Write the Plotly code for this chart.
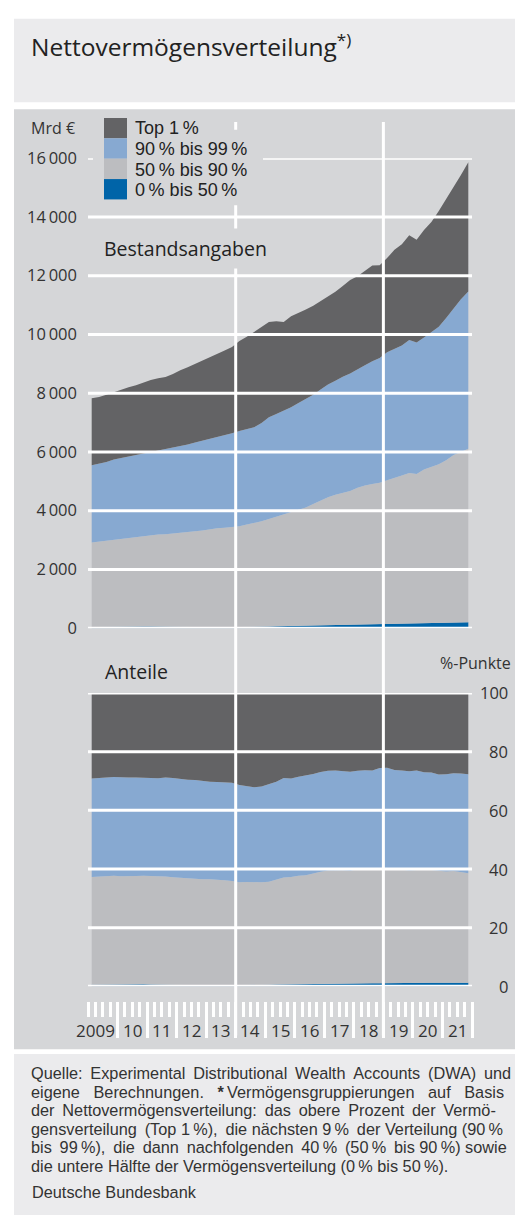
import plotly.graph_objects as go

W, H = 515, 1226
FONT = "Open Sans"
FN_FONT = "Liberation Sans"
TXT = "#333333"
DARK = "#222222"
PANEL = "#d5d6d8"
BAND = "#ebebed"

# ---------------- data (Mrd €, quarterly 2009Q1 .. 2021Q4) ----------------
years = list(range(2009, 2022))
quarters = [f"{y}Q{q}" for y in years for q in range(1, 5)]

bottom50 = [40, 45, 50, 55, 60, 65, 65, 60, 55, 50,
            45, 40, 35, 30, 30, 30, 30, 30, 35, 35,
            40, 45, 50, 55, 60, 65, 70, 75, 80, 85,
            90, 95, 100, 105, 110, 115, 120, 125, 130, 130,
            140, 150, 155, 160, 160, 165, 170, 175, 180, 190,
            195, 200]
p50_90 = [2880, 2905, 2940, 2975, 2990, 3025, 3045, 3090, 3125, 3140,
          3155, 3180, 3215, 3250, 3270, 3300, 3340, 3370, 3385, 3405,
          3430, 3485, 3530, 3585, 3660, 3735, 3800, 3885, 3970, 4025,
          4140, 4255, 4360, 4435, 4500, 4555, 4660, 4735, 4780, 4820,
          4900, 4980, 5045, 5120, 5090, 5235, 5310, 5405, 5540, 5710,
          5805, 5910]
p90_99 = [2630, 2650, 2670, 2710, 2740, 2750, 2780, 2790, 2820, 2850,
          2890, 2920, 2950, 2970, 3020, 3050, 3070, 3100, 3140, 3200,
          3240, 3250, 3260, 3350, 3460, 3490, 3530, 3560, 3620, 3690,
          3720, 3780, 3840, 3880, 3950, 4000, 4020, 4090, 4180, 4250,
          4350, 4370, 4420, 4530, 4480, 4500, 4600, 4680, 4840, 5000,
          5200, 5350]
top1 = [2280, 2270, 2290, 2300, 2340, 2360, 2380, 2420, 2450, 2470,
        2460, 2510, 2580, 2630, 2670, 2740, 2790, 2830, 2890, 2930,
        3070, 3140, 3240, 3270, 3240, 3160, 3020, 3100, 3060, 3050,
        3030, 3000, 2990, 3030, 3090, 3180, 3180, 3200, 3260, 3160,
        3210, 3380, 3450, 3570, 3490, 3660, 3750, 3940, 4040, 4100,
        4230, 4400]

series_names = ["0\u2009% bis 50\u2009%", "50\u2009% bis 90\u2009%",
                "90\u2009% bis 99\u2009%", "Top 1\u2009%"]
series_values = [bottom50, p50_90, p90_99, top1]
series_colors = ["#0064a8", "#bcbdc0", "#87a9d1", "#636365"]

top_ticks = [0, 2000, 4000, 6000, 8000, 10000, 12000, 14000, 16000]
top_ticktext = ["0", "2\u2009000", "4\u2009000", "6\u2009000", "8\u2009000",
                "10\u2009000", "12\u2009000", "14\u2009000", "16\u2009000"]
bottom_ticks = [0, 20, 40, 60, 80, 100]
year_labels = ["2009", "10", "11", "12", "13", "14", "15", "16", "17",
               "18", "19", "20", "21"]
marker_years = [2014, 2019]

T1 = " \u2009"
N2 = " \u00a0\u00a0"
footnote_lines = [
    T1.join(["Quelle:", "Experimental", "Distributional", "Wealth", "Accounts",
             "(DWA)", "und"]),
    N2.join(["eigene", "Berechnungen.", "<b>*</b>\u2009Vermögensgruppierungen", "auf", "Basis"]),
    T1.join(["der", "Nettovermögensverteilung:", "das", "obere", "Prozent", "der", "Vermö-"]),
    "gensverteilung" + T1 + "(Top 1\u2009%)," + T1 + "die nächsten 9\u2009%" + T1
    + "der Verteilung (90\u2009%",
    T1.join(["bis", "99\u2009%),", "die", "dann", "nachfolgenden", "40\u2009%",
             "(50\u2009%", "bis"]) + " 90\u2009%) sowie",
    "die untere Hälfte der Vermögensverteilung (0\u2009% bis 50\u2009%).",
]

# ---------------- helpers ----------------
def fx(px):
    return px / W

def fy(py):
    return 1 - py / H

def span(txt, size):
    return f'<span style="font-size:{size}px">{txt}</span>'

xq = [int(q[:4]) + (int(q[-1]) - 0.5) / 4 for q in quarters]

fig = go.Figure()
for name, vals, col in zip(series_names, series_values, series_colors):
    fig.add_trace(go.Scatter(x=xq, y=vals, name=name, stackgroup="abs",
                             mode="lines", line=dict(width=0, color=col),
                             fillcolor=col, xaxis="x", yaxis="y",
                             showlegend=False, hoverinfo="skip"))
for i, (name, vals, col) in enumerate(zip(series_names, series_values, series_colors)):
    kw = dict(groupnorm="percent") if i == 0 else {}
    fig.add_trace(go.Scatter(x=xq, y=vals, name=name, stackgroup="pct",
                             mode="lines", line=dict(width=0, color=col),
                             fillcolor=col, xaxis="x2", yaxis="y2",
                             showlegend=False, hoverinfo="skip", **kw))

xdom = [fx(88), fx(472)]
xrange_ = [2009, 2022]
quarter_bounds = [2009 + k / 4 for k in range(0, 53)]

shapes = []
# background bands
shapes.append(dict(type="rect", xref="paper", yref="paper", x0=fx(14), x1=1,
                   y0=fy(92), y1=fy(7), fillcolor=BAND, line=dict(width=0), layer="below"))
shapes.append(dict(type="rect", xref="paper", yref="paper", x0=fx(14), x1=1,
                   y0=fy(1057), y1=fy(99), fillcolor=PANEL, line=dict(width=0), layer="below"))
shapes.append(dict(type="rect", xref="paper", yref="paper", x0=fx(14), x1=1,
                   y0=0, y1=fy(1062), fillcolor=BAND, line=dict(width=0), layer="below"))
# gridlines (drawn above areas)
for v in top_ticks:
    shapes.append(dict(type="line", xref="x domain", yref="y", x0=0, x1=1, y0=v, y1=v,
                       line=dict(color="white", width=3), layer="above"))
for v in bottom_ticks:
    shapes.append(dict(type="line", xref="x2 domain", yref="y2", x0=0, x1=1, y0=v, y1=v,
                       line=dict(color="white", width=3), layer="above"))
for yv in marker_years:
    shapes.append(dict(type="line", xref="x", yref="paper", x0=yv, x1=yv,
                       y0=fy(1043), y1=fy(112), line=dict(color="white", width=3),
                       layer="above"))
# legend block
shapes.append(dict(type="rect", xref="paper", yref="paper", x0=fx(93), x1=fx(263),
                   y0=fy(197), y1=fy(120), fillcolor=PANEL, line=dict(width=0), layer="above"))
leg_order = [3, 2, 1, 0]
sq_top = 108
sq_h = 20.75
annotations = []
for k, idx in enumerate(leg_order):
    t = sq_top + k * sq_h
    shapes.append(dict(type="rect", xref="paper", yref="paper", x0=fx(104), x1=fx(127),
                       y0=fy(t + sq_h), y1=fy(t), fillcolor=series_colors[idx],
                       line=dict(width=0), layer="above"))
annotations.append(dict(xref="paper", yref="paper", x=fx(134),
                        y=fy(sq_top + 2 * sq_h), xanchor="left", yanchor="middle",
                        showarrow=False, align="left", borderpad=0,
                        text="<br>".join(span(series_names[i], 18) for i in leg_order),
                        font=dict(family=FN_FONT, size=sq_h / 1.3, color=DARK)))

# texts
annotations.append(dict(xref="paper", yref="paper", x=fx(29), y=fy(34), xanchor="left",
                        yanchor="middle", showarrow=False,
                        text="Nettovermögensverteilung<sup>*)</sup>",
                        font=dict(size=24.5, color=DARK)))
annotations.append(dict(xref="paper", yref="paper", x=fx(29), y=fy(118), xanchor="left",
                        yanchor="middle", showarrow=False, text="Mrd €",
                        font=dict(size=16, color=TXT)))
annotations.append(dict(xref="paper", yref="paper", x=fx(97), y=fy(241), xanchor="left",
                        yanchor="middle", showarrow=False, text="Bestandsangaben",
                        font=dict(size=19.5, color=DARK), bgcolor=PANEL, borderpad=6))
annotations.append(dict(xref="paper", yref="paper", x=fx(103), y=fy(672), xanchor="left",
                        yanchor="middle", showarrow=False, text="Anteile",
                        font=dict(size=19.5, color=DARK)))
annotations.append(dict(xref="paper", yref="paper", x=fx(513), y=fy(663), xanchor="right",
                        yanchor="middle", showarrow=False, text="%-Punkte",
                        font=dict(size=16, color=TXT)))
for v in bottom_ticks:
    annotations.append(dict(xref="paper", yref="y2", x=fx(510), y=v, xanchor="right",
                            yanchor="middle", showarrow=False, text=str(v),
                            font=dict(size=16.5, color=TXT)))
for yr, lab in zip(years, year_labels):
    annotations.append(dict(xref="x2", yref="paper", x=yr + 0.5, y=fy(1038),
                            xanchor="center", yanchor="middle", showarrow=False,
                            text=lab, xshift=-7 if lab == "2009" else 0,
                            font=dict(size=17, color=TXT)))
FN_SP = 18.5
FN_FIRST = 1082
FN_SIZE = 16.3
annotations.append(dict(xref="paper", yref="paper", x=fx(30),
                        y=fy(FN_FIRST + (len(footnote_lines) - 1) * FN_SP / 2),
                        xanchor="left", yanchor="middle", showarrow=False,
                        align="left", borderpad=0,
                        text="<br>".join(span(l, FN_SIZE) for l in footnote_lines),
                        font=dict(family=FN_FONT, size=FN_SP / 1.3, color=TXT)))
annotations.append(dict(xref="paper", yref="paper", x=fx(30), y=fy(1203),
                        xanchor="left", yanchor="middle", showarrow=False,
                        text="Deutsche Bundesbank",
                        font=dict(family=FN_FONT, size=FN_SIZE, color=TXT)))

fig.update_layout(
    width=W, height=H, margin=dict(l=0, r=0, t=0, b=0),
    paper_bgcolor="white", plot_bgcolor="rgba(0,0,0,0)",
    font=dict(family=FONT, color=TXT),
    showlegend=False,
    xaxis=dict(domain=xdom, range=xrange_, anchor="y", showgrid=False, zeroline=False,
               showticklabels=False, ticks="", showline=False, fixedrange=True),
    yaxis=dict(domain=[fy(628), fy(149)], range=[0, 16000], anchor="x",
               tickmode="array", tickvals=top_ticks, ticktext=top_ticktext,
               showgrid=False, zeroline=False, ticks="", showline=False,
               ticklabelstandoff=10, tickfont=dict(size=16.5, color=TXT)),
    xaxis2=dict(domain=xdom, range=xrange_, anchor="free", position=fy(1008),
                showgrid=False, zeroline=False, showline=False, showticklabels=False,
                tickmode="array", tickvals=list(range(2010, 2023)), ticks="outside",
                ticklen=36, tickwidth=3, tickcolor="white",
                minor=dict(tickmode="array", tickvals=quarter_bounds, ticks="outside",
                           ticklen=15, tickwidth=2.5, tickcolor="white", showgrid=False)),
    yaxis2=dict(domain=[fy(993), fy(694)], range=[0, 100], anchor="x2",
                showgrid=False, zeroline=False, showticklabels=False, ticks="",
                showline=False),
    shapes=shapes, annotations=annotations,
)

fig.write_html("out.html")
